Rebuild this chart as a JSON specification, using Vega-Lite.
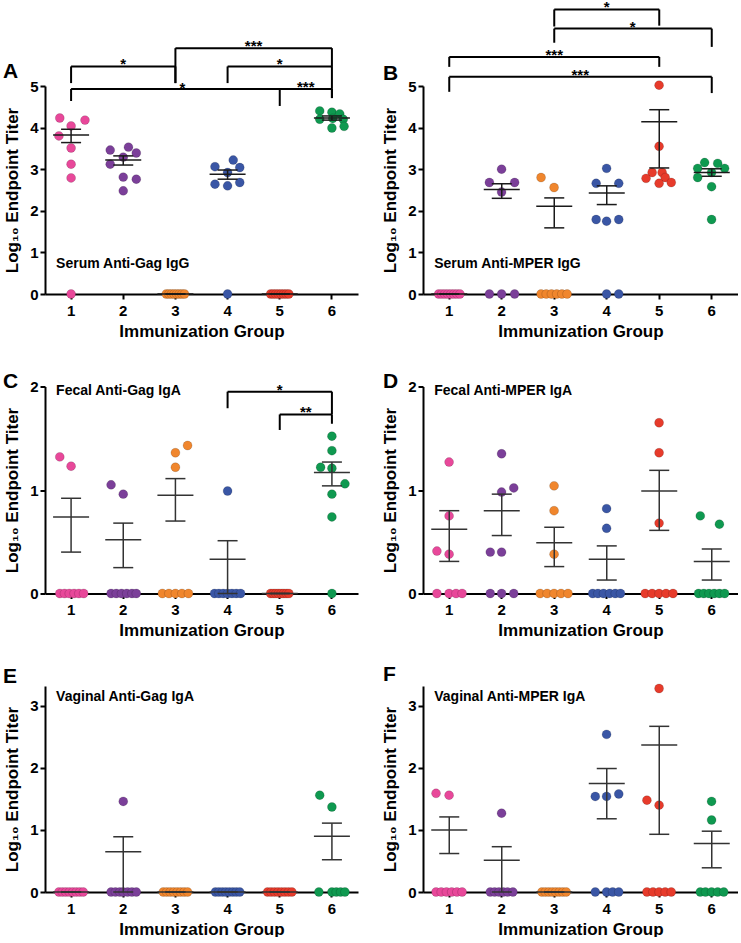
{
"$schema": "https://vega.github.io/schema/vega-lite/v6.json",
"padding": {"left": 3, "top": 0, "right": 0, "bottom": 0},
"config": {
 "font": "Liberation Sans",
 "view": {"stroke": null},
 "axis": {"domainColor": "#000", "domainWidth": 2, "tickColor": "#000", "tickWidth": 2, "tickSize": 5, "labelFontSize": 15, "labelFontWeight": "bold", "labelColor": "#000", "titleFontSize": 17, "titleFontWeight": "bold", "titleColor": "#000", "grid": false},
 "axisX": {"labelAngle": 0, "labelPadding": 4, "titlePadding": 5},
 "axisY": {"labelPadding": 2, "titlePadding": 8, "format": "d"},
 "title": {"fontSize": 21, "fontWeight": "bold", "color": "#000", "anchor": "start", "frame": "group"}
},
"datasets": {
 "points": [
  {"panel":"A","group":1,"titer":4.23,"slot":-1.3},{"panel":"A","group":1,"titer":4.04,"slot":0},{"panel":"A","group":1,"titer":4.18,"slot":1.6},{"panel":"A","group":1,"titer":3.8,"slot":-1.4},{"panel":"A","group":1,"titer":3.51,"slot":0},{"panel":"A","group":1,"titer":3.12,"slot":0},{"panel":"A","group":1,"titer":2.79,"slot":0},{"panel":"A","group":1,"titer":0,"slot":0},
  {"panel":"A","group":2,"titer":3.46,"slot":-1.5},{"panel":"A","group":2,"titer":3.53,"slot":0.6},{"panel":"A","group":2,"titer":3.39,"slot":1.5},{"panel":"A","group":2,"titer":3.12,"slot":-1.5},{"panel":"A","group":2,"titer":3.29,"slot":0},{"panel":"A","group":2,"titer":2.81,"slot":0},{"panel":"A","group":2,"titer":2.76,"slot":1.5},{"panel":"A","group":2,"titer":2.48,"slot":0},
  {"panel":"A","group":3,"titer":0,"slot":-1.05},{"panel":"A","group":3,"titer":0,"slot":-0.75},{"panel":"A","group":3,"titer":0,"slot":-0.45},{"panel":"A","group":3,"titer":0,"slot":-0.15},{"panel":"A","group":3,"titer":0,"slot":0.15},{"panel":"A","group":3,"titer":0,"slot":0.45},{"panel":"A","group":3,"titer":0,"slot":0.75},{"panel":"A","group":3,"titer":0,"slot":1.05},
  {"panel":"A","group":4,"titer":3.06,"slot":-1.45},{"panel":"A","group":4,"titer":3.22,"slot":0.65},{"panel":"A","group":4,"titer":3.04,"slot":1.4},{"panel":"A","group":4,"titer":2.92,"slot":0},{"panel":"A","group":4,"titer":2.64,"slot":-1.45},{"panel":"A","group":4,"titer":2.6,"slot":0},{"panel":"A","group":4,"titer":2.68,"slot":1.4},{"panel":"A","group":4,"titer":0,"slot":0},
  {"panel":"A","group":5,"titer":0,"slot":-1.05},{"panel":"A","group":5,"titer":0,"slot":-0.75},{"panel":"A","group":5,"titer":0,"slot":-0.45},{"panel":"A","group":5,"titer":0,"slot":-0.15},{"panel":"A","group":5,"titer":0,"slot":0.15},{"panel":"A","group":5,"titer":0,"slot":0.45},{"panel":"A","group":5,"titer":0,"slot":0.75},{"panel":"A","group":5,"titer":0,"slot":1.05},
  {"panel":"A","group":6,"titer":4.4,"slot":-1.4},{"panel":"A","group":6,"titer":4.37,"slot":0},{"panel":"A","group":6,"titer":4.33,"slot":0.9},{"panel":"A","group":6,"titer":4.2,"slot":-1.4},{"panel":"A","group":6,"titer":4.22,"slot":0.1},{"panel":"A","group":6,"titer":4.2,"slot":1.3},{"panel":"A","group":6,"titer":3.99,"slot":0},{"panel":"A","group":6,"titer":4.03,"slot":1.4},

  {"panel":"B","group":1,"titer":0,"slot":-1.2},{"panel":"B","group":1,"titer":0,"slot":-0.85},{"panel":"B","group":1,"titer":0,"slot":-0.5},{"panel":"B","group":1,"titer":0,"slot":-0.15},{"panel":"B","group":1,"titer":0,"slot":0.2},{"panel":"B","group":1,"titer":0,"slot":0.55},{"panel":"B","group":1,"titer":0,"slot":0.9},{"panel":"B","group":1,"titer":0,"slot":1.25},
  {"panel":"B","group":2,"titer":3.0,"slot":0},{"panel":"B","group":2,"titer":2.68,"slot":-1.4},{"panel":"B","group":2,"titer":2.68,"slot":1.5},{"panel":"B","group":2,"titer":2.45,"slot":0},{"panel":"B","group":2,"titer":0,"slot":-1.4},{"panel":"B","group":2,"titer":0,"slot":0},{"panel":"B","group":2,"titer":0,"slot":1.5},
  {"panel":"B","group":3,"titer":2.8,"slot":-1.5},{"panel":"B","group":3,"titer":2.56,"slot":0},{"panel":"B","group":3,"titer":0,"slot":-1.5},{"panel":"B","group":3,"titer":0,"slot":-0.9},{"panel":"B","group":3,"titer":0,"slot":-0.3},{"panel":"B","group":3,"titer":0,"slot":0.3},{"panel":"B","group":3,"titer":0,"slot":0.9},{"panel":"B","group":3,"titer":0,"slot":1.5},
  {"panel":"B","group":4,"titer":3.02,"slot":0},{"panel":"B","group":4,"titer":2.66,"slot":-1.2},{"panel":"B","group":4,"titer":2.66,"slot":1.4},{"panel":"B","group":4,"titer":1.79,"slot":-1.2},{"panel":"B","group":4,"titer":1.75,"slot":0},{"panel":"B","group":4,"titer":1.79,"slot":1.4},{"panel":"B","group":4,"titer":0,"slot":0},{"panel":"B","group":4,"titer":0,"slot":1.4},
  {"panel":"B","group":5,"titer":5.02,"slot":0},{"panel":"B","group":5,"titer":3.55,"slot":0},{"panel":"B","group":5,"titer":2.92,"slot":-0.8},{"panel":"B","group":5,"titer":2.92,"slot":0.35},{"panel":"B","group":5,"titer":2.8,"slot":0.7},{"panel":"B","group":5,"titer":2.78,"slot":-1.5},{"panel":"B","group":5,"titer":2.66,"slot":0},{"panel":"B","group":5,"titer":2.68,"slot":1.4},
  {"panel":"B","group":6,"titer":3.16,"slot":-0.8},{"panel":"B","group":6,"titer":3.14,"slot":0.7},{"panel":"B","group":6,"titer":3.02,"slot":-1.6},{"panel":"B","group":6,"titer":3.02,"slot":1.5},{"panel":"B","group":6,"titer":2.8,"slot":-1.6},{"panel":"B","group":6,"titer":2.92,"slot":0},{"panel":"B","group":6,"titer":2.58,"slot":0},{"panel":"B","group":6,"titer":1.79,"slot":0},

  {"panel":"C","group":1,"titer":1.32,"slot":-1.3},{"panel":"C","group":1,"titer":1.23,"slot":0},{"panel":"C","group":1,"titer":0,"slot":-1.3},{"panel":"C","group":1,"titer":0,"slot":-0.75},{"panel":"C","group":1,"titer":0,"slot":-0.2},{"panel":"C","group":1,"titer":0,"slot":0.35},{"panel":"C","group":1,"titer":0,"slot":0.9},{"panel":"C","group":1,"titer":0,"slot":1.45},
  {"panel":"C","group":2,"titer":1.05,"slot":-1.4},{"panel":"C","group":2,"titer":0.96,"slot":0},{"panel":"C","group":2,"titer":0,"slot":-1.4},{"panel":"C","group":2,"titer":0,"slot":-0.8},{"panel":"C","group":2,"titer":0,"slot":-0.2},{"panel":"C","group":2,"titer":0,"slot":0.4},{"panel":"C","group":2,"titer":0,"slot":1.0},{"panel":"C","group":2,"titer":0,"slot":1.5},
  {"panel":"C","group":3,"titer":1.36,"slot":0},{"panel":"C","group":3,"titer":1.43,"slot":1.4},{"panel":"C","group":3,"titer":1.22,"slot":0},{"panel":"C","group":3,"titer":0,"slot":-1.5},{"panel":"C","group":3,"titer":0,"slot":-0.75},{"panel":"C","group":3,"titer":0,"slot":0},{"panel":"C","group":3,"titer":0,"slot":0.75},{"panel":"C","group":3,"titer":0,"slot":1.5},
  {"panel":"C","group":4,"titer":0.99,"slot":0},{"panel":"C","group":4,"titer":0,"slot":-1.5},{"panel":"C","group":4,"titer":0,"slot":-1.0},{"panel":"C","group":4,"titer":0,"slot":-0.5},{"panel":"C","group":4,"titer":0,"slot":0},{"panel":"C","group":4,"titer":0,"slot":0.5},{"panel":"C","group":4,"titer":0,"slot":1.0},{"panel":"C","group":4,"titer":0,"slot":1.5},
  {"panel":"C","group":5,"titer":0,"slot":-1.05},{"panel":"C","group":5,"titer":0,"slot":-0.75},{"panel":"C","group":5,"titer":0,"slot":-0.45},{"panel":"C","group":5,"titer":0,"slot":-0.15},{"panel":"C","group":5,"titer":0,"slot":0.15},{"panel":"C","group":5,"titer":0,"slot":0.45},{"panel":"C","group":5,"titer":0,"slot":0.75},{"panel":"C","group":5,"titer":0,"slot":1.05},
  {"panel":"C","group":6,"titer":1.52,"slot":0},{"panel":"C","group":6,"titer":1.38,"slot":0},{"panel":"C","group":6,"titer":1.22,"slot":-1.3},{"panel":"C","group":6,"titer":1.21,"slot":0},{"panel":"C","group":6,"titer":1.06,"slot":1.5},{"panel":"C","group":6,"titer":0.96,"slot":0},{"panel":"C","group":6,"titer":0.74,"slot":0},{"panel":"C","group":6,"titer":0,"slot":0},

  {"panel":"D","group":1,"titer":1.27,"slot":0},{"panel":"D","group":1,"titer":0.75,"slot":0},{"panel":"D","group":1,"titer":0.41,"slot":-1.4},{"panel":"D","group":1,"titer":0.38,"slot":0},{"panel":"D","group":1,"titer":0,"slot":-1.4},{"panel":"D","group":1,"titer":0,"slot":0},{"panel":"D","group":1,"titer":0,"slot":0.8},{"panel":"D","group":1,"titer":0,"slot":1.5},
  {"panel":"D","group":2,"titer":1.35,"slot":0},{"panel":"D","group":2,"titer":0.98,"slot":0},{"panel":"D","group":2,"titer":1.02,"slot":1.4},{"panel":"D","group":2,"titer":0.4,"slot":-1.3},{"panel":"D","group":2,"titer":0.4,"slot":0},{"panel":"D","group":2,"titer":0,"slot":-1.3},{"panel":"D","group":2,"titer":0,"slot":0},{"panel":"D","group":2,"titer":0,"slot":1.4},
  {"panel":"D","group":3,"titer":1.04,"slot":0},{"panel":"D","group":3,"titer":0.8,"slot":0},{"panel":"D","group":3,"titer":0.38,"slot":0},{"panel":"D","group":3,"titer":0,"slot":-1.6},{"panel":"D","group":3,"titer":0,"slot":-0.8},{"panel":"D","group":3,"titer":0,"slot":0},{"panel":"D","group":3,"titer":0,"slot":0.8},{"panel":"D","group":3,"titer":0,"slot":1.6},
  {"panel":"D","group":4,"titer":0.82,"slot":0},{"panel":"D","group":4,"titer":0.63,"slot":0},{"panel":"D","group":4,"titer":0,"slot":-1.6},{"panel":"D","group":4,"titer":0,"slot":-1.0},{"panel":"D","group":4,"titer":0,"slot":-0.35},{"panel":"D","group":4,"titer":0,"slot":0.35},{"panel":"D","group":4,"titer":0,"slot":1.0},{"panel":"D","group":4,"titer":0,"slot":1.6},
  {"panel":"D","group":5,"titer":1.65,"slot":0},{"panel":"D","group":5,"titer":1.36,"slot":0},{"panel":"D","group":5,"titer":0.68,"slot":0},{"panel":"D","group":5,"titer":0,"slot":-1.6},{"panel":"D","group":5,"titer":0,"slot":-0.8},{"panel":"D","group":5,"titer":0,"slot":0},{"panel":"D","group":5,"titer":0,"slot":0.8},{"panel":"D","group":5,"titer":0,"slot":1.6},
  {"panel":"D","group":6,"titer":0.75,"slot":-1.3},{"panel":"D","group":6,"titer":0.67,"slot":0.9},{"panel":"D","group":6,"titer":0,"slot":-1.5},{"panel":"D","group":6,"titer":0,"slot":-0.9},{"panel":"D","group":6,"titer":0,"slot":-0.3},{"panel":"D","group":6,"titer":0,"slot":0.3},{"panel":"D","group":6,"titer":0,"slot":0.9},{"panel":"D","group":6,"titer":0,"slot":1.5},

  {"panel":"E","group":1,"titer":0,"slot":-1.4},{"panel":"E","group":1,"titer":0,"slot":-1.0},{"panel":"E","group":1,"titer":0,"slot":-0.6},{"panel":"E","group":1,"titer":0,"slot":-0.2},{"panel":"E","group":1,"titer":0,"slot":0.2},{"panel":"E","group":1,"titer":0,"slot":0.6},{"panel":"E","group":1,"titer":0,"slot":1.0},{"panel":"E","group":1,"titer":0,"slot":1.4},
  {"panel":"E","group":2,"titer":1.46,"slot":0},{"panel":"E","group":2,"titer":0,"slot":-1.4},{"panel":"E","group":2,"titer":0,"slot":-0.9},{"panel":"E","group":2,"titer":0,"slot":-0.4},{"panel":"E","group":2,"titer":0,"slot":0},{"panel":"E","group":2,"titer":0,"slot":0.5},{"panel":"E","group":2,"titer":0,"slot":1.0},{"panel":"E","group":2,"titer":0,"slot":1.5},
  {"panel":"E","group":3,"titer":0,"slot":-1.4},{"panel":"E","group":3,"titer":0,"slot":-1.0},{"panel":"E","group":3,"titer":0,"slot":-0.6},{"panel":"E","group":3,"titer":0,"slot":-0.2},{"panel":"E","group":3,"titer":0,"slot":0.2},{"panel":"E","group":3,"titer":0,"slot":0.6},{"panel":"E","group":3,"titer":0,"slot":1.0},{"panel":"E","group":3,"titer":0,"slot":1.4},
  {"panel":"E","group":4,"titer":0,"slot":-1.4},{"panel":"E","group":4,"titer":0,"slot":-1.0},{"panel":"E","group":4,"titer":0,"slot":-0.6},{"panel":"E","group":4,"titer":0,"slot":-0.2},{"panel":"E","group":4,"titer":0,"slot":0.2},{"panel":"E","group":4,"titer":0,"slot":0.6},{"panel":"E","group":4,"titer":0,"slot":1.0},{"panel":"E","group":4,"titer":0,"slot":1.4},
  {"panel":"E","group":5,"titer":0,"slot":-1.4},{"panel":"E","group":5,"titer":0,"slot":-1.0},{"panel":"E","group":5,"titer":0,"slot":-0.6},{"panel":"E","group":5,"titer":0,"slot":-0.2},{"panel":"E","group":5,"titer":0,"slot":0.2},{"panel":"E","group":5,"titer":0,"slot":0.6},{"panel":"E","group":5,"titer":0,"slot":1.0},{"panel":"E","group":5,"titer":0,"slot":1.4},
  {"panel":"E","group":6,"titer":1.56,"slot":-1.4},{"panel":"E","group":6,"titer":1.37,"slot":0},{"panel":"E","group":6,"titer":0,"slot":-1.5},{"panel":"E","group":6,"titer":0,"slot":0},{"panel":"E","group":6,"titer":0,"slot":0.5},{"panel":"E","group":6,"titer":0,"slot":1.0},{"panel":"E","group":6,"titer":0,"slot":1.5},

  {"panel":"F","group":1,"titer":1.59,"slot":-1.5},{"panel":"F","group":1,"titer":1.56,"slot":0},{"panel":"F","group":1,"titer":0,"slot":-1.5},{"panel":"F","group":1,"titer":0,"slot":-0.9},{"panel":"F","group":1,"titer":0,"slot":-0.3},{"panel":"F","group":1,"titer":0,"slot":0.3},{"panel":"F","group":1,"titer":0,"slot":0.9},{"panel":"F","group":1,"titer":0,"slot":1.5},
  {"panel":"F","group":2,"titer":1.27,"slot":0},{"panel":"F","group":2,"titer":0,"slot":-1.3},{"panel":"F","group":2,"titer":0,"slot":-0.8},{"panel":"F","group":2,"titer":0,"slot":-0.3},{"panel":"F","group":2,"titer":0,"slot":0.2},{"panel":"F","group":2,"titer":0,"slot":0.7},{"panel":"F","group":2,"titer":0,"slot":1.3},
  {"panel":"F","group":3,"titer":0,"slot":-1.4},{"panel":"F","group":3,"titer":0,"slot":-1.0},{"panel":"F","group":3,"titer":0,"slot":-0.6},{"panel":"F","group":3,"titer":0,"slot":-0.2},{"panel":"F","group":3,"titer":0,"slot":0.2},{"panel":"F","group":3,"titer":0,"slot":0.6},{"panel":"F","group":3,"titer":0,"slot":1.0},{"panel":"F","group":3,"titer":0,"slot":1.4},
  {"panel":"F","group":4,"titer":2.54,"slot":0},{"panel":"F","group":4,"titer":1.54,"slot":-1.3},{"panel":"F","group":4,"titer":1.54,"slot":0},{"panel":"F","group":4,"titer":1.58,"slot":1.4},{"panel":"F","group":4,"titer":0,"slot":-1.3},{"panel":"F","group":4,"titer":0,"slot":0},{"panel":"F","group":4,"titer":0,"slot":0.7},{"panel":"F","group":4,"titer":0,"slot":1.4},
  {"panel":"F","group":5,"titer":3.28,"slot":0},{"panel":"F","group":5,"titer":1.48,"slot":-1.4},{"panel":"F","group":5,"titer":1.4,"slot":0},{"panel":"F","group":5,"titer":0,"slot":-1.4},{"panel":"F","group":5,"titer":0,"slot":-0.7},{"panel":"F","group":5,"titer":0,"slot":0},{"panel":"F","group":5,"titer":0,"slot":0.7},{"panel":"F","group":5,"titer":0,"slot":1.4},
  {"panel":"F","group":6,"titer":1.46,"slot":0},{"panel":"F","group":6,"titer":1.16,"slot":0},{"panel":"F","group":6,"titer":0,"slot":-1.3},{"panel":"F","group":6,"titer":0,"slot":-0.7},{"panel":"F","group":6,"titer":0,"slot":0},{"panel":"F","group":6,"titer":0,"slot":0.7},{"panel":"F","group":6,"titer":0,"slot":1.4}
 ],
 "stats": [
  {"panel":"A","group":1,"mean":3.82,"lo":3.64,"hi":3.96},{"panel":"A","group":2,"mean":3.22,"lo":3.1,"hi":3.32},{"panel":"A","group":3,"mean":0,"lo":0,"hi":0},{"panel":"A","group":4,"mean":2.88,"lo":2.76,"hi":2.98},{"panel":"A","group":5,"mean":0,"lo":0,"hi":0},{"panel":"A","group":6,"mean":4.23,"lo":4.18,"hi":4.28},
  {"panel":"B","group":1,"mean":0,"lo":0,"hi":0},{"panel":"B","group":2,"mean":2.51,"lo":2.3,"hi":2.65},{"panel":"B","group":3,"mean":2.11,"lo":1.59,"hi":2.31},{"panel":"B","group":4,"mean":2.43,"lo":2.15,"hi":2.6},{"panel":"B","group":5,"mean":4.14,"lo":3.03,"hi":4.43},{"panel":"B","group":6,"mean":2.92,"lo":2.83,"hi":3.01},
  {"panel":"C","group":1,"mean":0.74,"lo":0.4,"hi":0.92},{"panel":"C","group":2,"mean":0.52,"lo":0.25,"hi":0.68},{"panel":"C","group":3,"mean":0.95,"lo":0.7,"hi":1.11},{"panel":"C","group":4,"mean":0.33,"lo":0,"hi":0.51},{"panel":"C","group":5,"mean":0,"lo":0,"hi":0},{"panel":"C","group":6,"mean":1.17,"lo":1.04,"hi":1.27},
  {"panel":"D","group":1,"mean":0.62,"lo":0.31,"hi":0.8},{"panel":"D","group":2,"mean":0.8,"lo":0.56,"hi":0.96},{"panel":"D","group":3,"mean":0.49,"lo":0.26,"hi":0.64},{"panel":"D","group":4,"mean":0.33,"lo":0.13,"hi":0.46},{"panel":"D","group":5,"mean":0.99,"lo":0.61,"hi":1.19},{"panel":"D","group":6,"mean":0.31,"lo":0.13,"hi":0.43},
  {"panel":"E","group":1,"mean":0,"lo":0,"hi":0},{"panel":"E","group":2,"mean":0.65,"lo":0,"hi":0.89},{"panel":"E","group":3,"mean":0,"lo":0,"hi":0},{"panel":"E","group":4,"mean":0,"lo":0,"hi":0},{"panel":"E","group":5,"mean":0,"lo":0,"hi":0},{"panel":"E","group":6,"mean":0.9,"lo":0.52,"hi":1.11},
  {"panel":"F","group":1,"mean":1.0,"lo":0.62,"hi":1.21},{"panel":"F","group":2,"mean":0.51,"lo":0,"hi":0.73},{"panel":"F","group":3,"mean":0,"lo":0,"hi":0},{"panel":"F","group":4,"mean":1.75,"lo":1.18,"hi":1.99},{"panel":"F","group":5,"mean":2.37,"lo":0.93,"hi":2.67},{"panel":"F","group":6,"mean":0.78,"lo":0.39,"hi":0.98}
 ],
 "brackets": [
  {"panel":"A","from":3,"to":6,"level":5.91,"endL":5.07,"endR":5.46,"stars":"***","place":"half","at":4},
  {"panel":"A","from":1,"to":3,"level":5.47,"endL":5.07,"endR":5.07,"stars":"*","place":"mid","at":2},
  {"panel":"A","from":4,"to":6,"level":5.47,"endL":5.07,"endR":4.93,"stars":"*","place":"mid","at":5},
  {"panel":"A","from":1,"to":6,"level":4.93,"endL":4.64,"endR":4.71,"stars":"*","place":"side","at":3},
  {"panel":"A","from":5,"to":6,"level":4.93,"endL":4.52,"endR":4.71,"stars":"***","place":"half","at":5},
  {"panel":"B","from":3,"to":5,"level":6.84,"endL":6.43,"endR":6.45,"stars":"*","place":"mid","at":4},
  {"panel":"B","from":3,"to":6,"level":6.38,"endL":6.04,"endR":5.94,"stars":"*","place":"half","at":4},
  {"panel":"B","from":1,"to":5,"level":5.7,"endL":5.46,"endR":5.46,"stars":"***","place":"mid","at":3},
  {"panel":"B","from":1,"to":6,"level":5.22,"endL":4.86,"endR":4.83,"stars":"***","place":"half","at":3},
  {"panel":"C","from":4,"to":6,"level":1.95,"endL":1.79,"endR":1.73,"stars":"*","place":"mid","at":5},
  {"panel":"C","from":5,"to":6,"level":1.73,"endL":1.58,"endR":1.64,"stars":"**","place":"half","at":5}
 ],
 "notes": [
  {"panel":"A","label":"Serum Anti-Gag IgG","at":1,"level":0.72},
  {"panel":"B","label":"Serum Anti-MPER IgG","at":1,"level":0.72},
  {"panel":"C","label":"Fecal Anti-Gag IgA","at":1,"level":1.96},
  {"panel":"D","label":"Fecal Anti-MPER IgA","at":1,"level":1.96},
  {"panel":"E","label":"Vaginal Anti-Gag IgA","at":1,"level":3.15},
  {"panel":"F","label":"Vaginal Anti-MPER IgA","at":1,"level":3.15}
 ]
},
"columns": 2,
"bounds": "flush",
"spacing": {"row": 92.5, "column": 65},
"concat": [
 {"width": 313, "height": 208,
  "title": {"text": "A", "dx": -42, "offset": -63.5, "baseline": "bottom"},
  "layer": [
   {"data": {"name": "points"}, "transform": [{"filter": {"field": "panel", "equal": "A"}}],
    "mark": {"type": "circle", "size": 80, "opacity": 1, "stroke": "#000", "strokeOpacity": 0.25, "strokeWidth": 0.6},
    "encoding": {
     "x": {"field": "group", "type": "ordinal", "scale": {"domain": [1,2,3,4,5,6], "paddingInner": 0, "paddingOuter": 0}, "axis": {"title": "Immunization Group"}},
     "xOffset": {"field": "slot", "type": "quantitative", "scale": {"domain": [-3, 3]}},
     "y": {"field": "titer", "type": "quantitative", "scale": {"domain": [0, 5], "nice": false}, "axis": {"title": "Log₁₀ Endpoint Titer", "values": [0,1,2,3,4,5]}},
     "color": {"field": "group", "type": "nominal", "scale": {"domain": [1,2,3,4,5,6], "range": ["#E8489A","#7B3F99","#F0862D","#3A56A5","#E73B2B","#0F9950"]}, "legend": null}}},
   {"data": {"name": "stats"}, "transform": [{"filter": {"field": "panel", "equal": "A"}}],
    "mark": {"type": "rule", "color": "#1a1a1a", "strokeWidth": 1.5},
    "encoding": {"x": {"field": "group", "type": "ordinal", "bandPosition": 0.5}, "y": {"field": "lo", "type": "quantitative"}, "y2": {"field": "hi"}}},
   {"data": {"name": "stats"}, "transform": [{"filter": {"field": "panel", "equal": "A"}}],
    "mark": {"type": "tick", "orient": "horizontal", "size": 36, "thickness": 1.5, "color": "#1a1a1a", "opacity": 1},
    "encoding": {"x": {"field": "group", "type": "ordinal"}, "y": {"field": "mean", "type": "quantitative"}}},
   {"data": {"name": "stats"}, "transform": [{"filter": {"field": "panel", "equal": "A"}}],
    "mark": {"type": "tick", "orient": "horizontal", "size": 20, "thickness": 1.5, "color": "#1a1a1a", "opacity": 1},
    "encoding": {"x": {"field": "group", "type": "ordinal"}, "y": {"field": "lo", "type": "quantitative"}}},
   {"data": {"name": "stats"}, "transform": [{"filter": {"field": "panel", "equal": "A"}}],
    "mark": {"type": "tick", "orient": "horizontal", "size": 20, "thickness": 1.5, "color": "#1a1a1a", "opacity": 1},
    "encoding": {"x": {"field": "group", "type": "ordinal"}, "y": {"field": "hi", "type": "quantitative"}}},
   {"data": {"name": "brackets"}, "transform": [{"filter": {"field": "panel", "equal": "A"}}],
    "mark": {"type": "rule", "color": "#000", "strokeWidth": 2},
    "encoding": {"x": {"field": "from", "type": "ordinal", "bandPosition": 0.5}, "x2": {"field": "to", "bandPosition": 0.5}, "y": {"field": "level", "type": "quantitative"}}},
   {"data": {"name": "brackets"}, "transform": [{"filter": {"field": "panel", "equal": "A"}}],
    "mark": {"type": "rule", "color": "#000", "strokeWidth": 2},
    "encoding": {"x": {"field": "from", "type": "ordinal", "bandPosition": 0.5}, "y": {"field": "level", "type": "quantitative"}, "y2": {"field": "endL"}}},
   {"data": {"name": "brackets"}, "transform": [{"filter": {"field": "panel", "equal": "A"}}],
    "mark": {"type": "rule", "color": "#000", "strokeWidth": 2},
    "encoding": {"x": {"field": "to", "type": "ordinal", "bandPosition": 0.5}, "y": {"field": "level", "type": "quantitative"}, "y2": {"field": "endR"}}},
   {"data": {"name": "brackets"}, "transform": [{"filter": {"field": "panel", "equal": "A"}}, {"filter": {"field": "place", "equal": "mid"}}],
    "mark": {"type": "text", "fontSize": 15, "fontWeight": "bold", "baseline": "alphabetic", "dy": 3, "color": "#000"},
    "encoding": {"x": {"field": "at", "type": "ordinal", "bandPosition": 0.5}, "y": {"field": "level", "type": "quantitative"}, "text": {"field": "stars"}}},
   {"data": {"name": "brackets"}, "transform": [{"filter": {"field": "panel", "equal": "A"}}, {"filter": {"field": "place", "equal": "half"}}],
    "mark": {"type": "text", "fontSize": 15, "fontWeight": "bold", "baseline": "alphabetic", "dy": 3, "dx": 26, "color": "#000"},
    "encoding": {"x": {"field": "at", "type": "ordinal", "bandPosition": 0.5}, "y": {"field": "level", "type": "quantitative"}, "text": {"field": "stars"}}},
   {"data": {"name": "brackets"}, "transform": [{"filter": {"field": "panel", "equal": "A"}}, {"filter": {"field": "place", "equal": "side"}}],
    "mark": {"type": "text", "fontSize": 15, "fontWeight": "bold", "baseline": "alphabetic", "dy": 4, "dx": 4, "align": "left", "color": "#000"},
    "encoding": {"x": {"field": "at", "type": "ordinal", "bandPosition": 0.5}, "y": {"field": "level", "type": "quantitative"}, "text": {"field": "stars"}}},
   {"data": {"name": "notes"}, "transform": [{"filter": {"field": "panel", "equal": "A"}}],
    "mark": {"type": "text", "fontSize": 14, "fontWeight": "bold", "align": "left", "baseline": "middle", "dx": -15, "color": "#000"},
    "encoding": {"x": {"field": "at", "type": "ordinal", "bandPosition": 0.5}, "y": {"field": "level", "type": "quantitative"}, "text": {"field": "label"}}}
  ]},
 {"width": 315, "height": 208,
  "title": {"text": "B", "dx": -40, "offset": -104.5, "baseline": "bottom"},
  "layer": [
   {"data": {"name": "points"}, "transform": [{"filter": {"field": "panel", "equal": "B"}}],
    "mark": {"type": "circle", "size": 80, "opacity": 1, "stroke": "#000", "strokeOpacity": 0.25, "strokeWidth": 0.6},
    "encoding": {
     "x": {"field": "group", "type": "ordinal", "scale": {"domain": [1,2,3,4,5,6], "paddingInner": 0, "paddingOuter": 0}, "axis": {"title": "Immunization Group"}},
     "xOffset": {"field": "slot", "type": "quantitative", "scale": {"domain": [-3, 3]}},
     "y": {"field": "titer", "type": "quantitative", "scale": {"domain": [0, 5], "nice": false}, "axis": {"title": "Log₁₀ Endpoint Titer", "values": [0,1,2,3,4,5]}},
     "color": {"field": "group", "type": "nominal", "scale": {"domain": [1,2,3,4,5,6], "range": ["#E8489A","#7B3F99","#F0862D","#3A56A5","#E73B2B","#0F9950"]}, "legend": null}}},
   {"data": {"name": "stats"}, "transform": [{"filter": {"field": "panel", "equal": "B"}}],
    "mark": {"type": "rule", "color": "#1a1a1a", "strokeWidth": 1.5},
    "encoding": {"x": {"field": "group", "type": "ordinal", "bandPosition": 0.5}, "y": {"field": "lo", "type": "quantitative"}, "y2": {"field": "hi"}}},
   {"data": {"name": "stats"}, "transform": [{"filter": {"field": "panel", "equal": "B"}}],
    "mark": {"type": "tick", "orient": "horizontal", "size": 36, "thickness": 1.5, "color": "#1a1a1a", "opacity": 1},
    "encoding": {"x": {"field": "group", "type": "ordinal"}, "y": {"field": "mean", "type": "quantitative"}}},
   {"data": {"name": "stats"}, "transform": [{"filter": {"field": "panel", "equal": "B"}}],
    "mark": {"type": "tick", "orient": "horizontal", "size": 20, "thickness": 1.5, "color": "#1a1a1a", "opacity": 1},
    "encoding": {"x": {"field": "group", "type": "ordinal"}, "y": {"field": "lo", "type": "quantitative"}}},
   {"data": {"name": "stats"}, "transform": [{"filter": {"field": "panel", "equal": "B"}}],
    "mark": {"type": "tick", "orient": "horizontal", "size": 20, "thickness": 1.5, "color": "#1a1a1a", "opacity": 1},
    "encoding": {"x": {"field": "group", "type": "ordinal"}, "y": {"field": "hi", "type": "quantitative"}}},
   {"data": {"name": "brackets"}, "transform": [{"filter": {"field": "panel", "equal": "B"}}],
    "mark": {"type": "rule", "color": "#000", "strokeWidth": 2},
    "encoding": {"x": {"field": "from", "type": "ordinal", "bandPosition": 0.5}, "x2": {"field": "to", "bandPosition": 0.5}, "y": {"field": "level", "type": "quantitative"}}},
   {"data": {"name": "brackets"}, "transform": [{"filter": {"field": "panel", "equal": "B"}}],
    "mark": {"type": "rule", "color": "#000", "strokeWidth": 2},
    "encoding": {"x": {"field": "from", "type": "ordinal", "bandPosition": 0.5}, "y": {"field": "level", "type": "quantitative"}, "y2": {"field": "endL"}}},
   {"data": {"name": "brackets"}, "transform": [{"filter": {"field": "panel", "equal": "B"}}],
    "mark": {"type": "rule", "color": "#000", "strokeWidth": 2},
    "encoding": {"x": {"field": "to", "type": "ordinal", "bandPosition": 0.5}, "y": {"field": "level", "type": "quantitative"}, "y2": {"field": "endR"}}},
   {"data": {"name": "brackets"}, "transform": [{"filter": {"field": "panel", "equal": "B"}}, {"filter": {"field": "place", "equal": "mid"}}],
    "mark": {"type": "text", "fontSize": 15, "fontWeight": "bold", "baseline": "alphabetic", "dy": 3, "color": "#000"},
    "encoding": {"x": {"field": "at", "type": "ordinal", "bandPosition": 0.5}, "y": {"field": "level", "type": "quantitative"}, "text": {"field": "stars"}}},
   {"data": {"name": "brackets"}, "transform": [{"filter": {"field": "panel", "equal": "B"}}, {"filter": {"field": "place", "equal": "half"}}],
    "mark": {"type": "text", "fontSize": 15, "fontWeight": "bold", "baseline": "alphabetic", "dy": 3, "dx": 26, "color": "#000"},
    "encoding": {"x": {"field": "at", "type": "ordinal", "bandPosition": 0.5}, "y": {"field": "level", "type": "quantitative"}, "text": {"field": "stars"}}},
   {"data": {"name": "notes"}, "transform": [{"filter": {"field": "panel", "equal": "B"}}],
    "mark": {"type": "text", "fontSize": 14, "fontWeight": "bold", "align": "left", "baseline": "middle", "dx": -15, "color": "#000"},
    "encoding": {"x": {"field": "at", "type": "ordinal", "bandPosition": 0.5}, "y": {"field": "level", "type": "quantitative"}, "text": {"field": "label"}}}
  ]},
 {"width": 313, "height": 207,
  "title": {"text": "C", "dx": -42, "offset": -33.5, "baseline": "bottom"},
  "layer": [
   {"data": {"name": "points"}, "transform": [{"filter": {"field": "panel", "equal": "C"}}],
    "mark": {"type": "circle", "size": 80, "opacity": 1, "stroke": "#000", "strokeOpacity": 0.25, "strokeWidth": 0.6},
    "encoding": {
     "x": {"field": "group", "type": "ordinal", "scale": {"domain": [1,2,3,4,5,6], "paddingInner": 0, "paddingOuter": 0}, "axis": {"title": "Immunization Group"}},
     "xOffset": {"field": "slot", "type": "quantitative", "scale": {"domain": [-3, 3]}},
     "y": {"field": "titer", "type": "quantitative", "scale": {"domain": [0, 2], "nice": false}, "axis": {"title": "Log₁₀ Endpoint Titer", "values": [0,1,2]}},
     "color": {"field": "group", "type": "nominal", "scale": {"domain": [1,2,3,4,5,6], "range": ["#E8489A","#7B3F99","#F0862D","#3A56A5","#E73B2B","#0F9950"]}, "legend": null}}},
   {"data": {"name": "stats"}, "transform": [{"filter": {"field": "panel", "equal": "C"}}],
    "mark": {"type": "rule", "color": "#333", "strokeWidth": 1.5},
    "encoding": {"x": {"field": "group", "type": "ordinal", "bandPosition": 0.5}, "y": {"field": "lo", "type": "quantitative"}, "y2": {"field": "hi"}}},
   {"data": {"name": "stats"}, "transform": [{"filter": {"field": "panel", "equal": "C"}}],
    "mark": {"type": "tick", "orient": "horizontal", "size": 36, "thickness": 1.5, "color": "#333", "opacity": 1},
    "encoding": {"x": {"field": "group", "type": "ordinal"}, "y": {"field": "mean", "type": "quantitative"}}},
   {"data": {"name": "stats"}, "transform": [{"filter": {"field": "panel", "equal": "C"}}],
    "mark": {"type": "tick", "orient": "horizontal", "size": 20, "thickness": 1.5, "color": "#333", "opacity": 1},
    "encoding": {"x": {"field": "group", "type": "ordinal"}, "y": {"field": "lo", "type": "quantitative"}}},
   {"data": {"name": "stats"}, "transform": [{"filter": {"field": "panel", "equal": "C"}}],
    "mark": {"type": "tick", "orient": "horizontal", "size": 20, "thickness": 1.5, "color": "#333", "opacity": 1},
    "encoding": {"x": {"field": "group", "type": "ordinal"}, "y": {"field": "hi", "type": "quantitative"}}},
   {"data": {"name": "brackets"}, "transform": [{"filter": {"field": "panel", "equal": "C"}}],
    "mark": {"type": "rule", "color": "#000", "strokeWidth": 2},
    "encoding": {"x": {"field": "from", "type": "ordinal", "bandPosition": 0.5}, "x2": {"field": "to", "bandPosition": 0.5}, "y": {"field": "level", "type": "quantitative"}}},
   {"data": {"name": "brackets"}, "transform": [{"filter": {"field": "panel", "equal": "C"}}],
    "mark": {"type": "rule", "color": "#000", "strokeWidth": 2},
    "encoding": {"x": {"field": "from", "type": "ordinal", "bandPosition": 0.5}, "y": {"field": "level", "type": "quantitative"}, "y2": {"field": "endL"}}},
   {"data": {"name": "brackets"}, "transform": [{"filter": {"field": "panel", "equal": "C"}}],
    "mark": {"type": "rule", "color": "#000", "strokeWidth": 2},
    "encoding": {"x": {"field": "to", "type": "ordinal", "bandPosition": 0.5}, "y": {"field": "level", "type": "quantitative"}, "y2": {"field": "endR"}}},
   {"data": {"name": "brackets"}, "transform": [{"filter": {"field": "panel", "equal": "C"}}, {"filter": {"field": "place", "equal": "mid"}}],
    "mark": {"type": "text", "fontSize": 15, "fontWeight": "bold", "baseline": "alphabetic", "dy": 3, "color": "#000"},
    "encoding": {"x": {"field": "at", "type": "ordinal", "bandPosition": 0.5}, "y": {"field": "level", "type": "quantitative"}, "text": {"field": "stars"}}},
   {"data": {"name": "brackets"}, "transform": [{"filter": {"field": "panel", "equal": "C"}}, {"filter": {"field": "place", "equal": "half"}}],
    "mark": {"type": "text", "fontSize": 15, "fontWeight": "bold", "baseline": "alphabetic", "dy": 3, "dx": 26, "color": "#000"},
    "encoding": {"x": {"field": "at", "type": "ordinal", "bandPosition": 0.5}, "y": {"field": "level", "type": "quantitative"}, "text": {"field": "stars"}}},
   {"data": {"name": "notes"}, "transform": [{"filter": {"field": "panel", "equal": "C"}}],
    "mark": {"type": "text", "fontSize": 14, "fontWeight": "bold", "align": "left", "baseline": "middle", "dx": -15, "color": "#000"},
    "encoding": {"x": {"field": "at", "type": "ordinal", "bandPosition": 0.5}, "y": {"field": "level", "type": "quantitative"}, "text": {"field": "label"}}}
  ]},
 {"width": 315, "height": 207,
  "title": {"text": "D", "dx": -40, "offset": -33.5, "baseline": "bottom"},
  "layer": [
   {"data": {"name": "points"}, "transform": [{"filter": {"field": "panel", "equal": "D"}}],
    "mark": {"type": "circle", "size": 80, "opacity": 1, "stroke": "#000", "strokeOpacity": 0.25, "strokeWidth": 0.6},
    "encoding": {
     "x": {"field": "group", "type": "ordinal", "scale": {"domain": [1,2,3,4,5,6], "paddingInner": 0, "paddingOuter": 0}, "axis": {"title": "Immunization Group"}},
     "xOffset": {"field": "slot", "type": "quantitative", "scale": {"domain": [-3, 3]}},
     "y": {"field": "titer", "type": "quantitative", "scale": {"domain": [0, 2], "nice": false}, "axis": {"title": "Log₁₀ Endpoint Titer", "values": [0,1,2]}},
     "color": {"field": "group", "type": "nominal", "scale": {"domain": [1,2,3,4,5,6], "range": ["#E8489A","#7B3F99","#F0862D","#3A56A5","#E73B2B","#0F9950"]}, "legend": null}}},
   {"data": {"name": "stats"}, "transform": [{"filter": {"field": "panel", "equal": "D"}}],
    "mark": {"type": "rule", "color": "#333", "strokeWidth": 1.5},
    "encoding": {"x": {"field": "group", "type": "ordinal", "bandPosition": 0.5}, "y": {"field": "lo", "type": "quantitative"}, "y2": {"field": "hi"}}},
   {"data": {"name": "stats"}, "transform": [{"filter": {"field": "panel", "equal": "D"}}],
    "mark": {"type": "tick", "orient": "horizontal", "size": 36, "thickness": 1.5, "color": "#333", "opacity": 1},
    "encoding": {"x": {"field": "group", "type": "ordinal"}, "y": {"field": "mean", "type": "quantitative"}}},
   {"data": {"name": "stats"}, "transform": [{"filter": {"field": "panel", "equal": "D"}}],
    "mark": {"type": "tick", "orient": "horizontal", "size": 20, "thickness": 1.5, "color": "#333", "opacity": 1},
    "encoding": {"x": {"field": "group", "type": "ordinal"}, "y": {"field": "lo", "type": "quantitative"}}},
   {"data": {"name": "stats"}, "transform": [{"filter": {"field": "panel", "equal": "D"}}],
    "mark": {"type": "tick", "orient": "horizontal", "size": 20, "thickness": 1.5, "color": "#333", "opacity": 1},
    "encoding": {"x": {"field": "group", "type": "ordinal"}, "y": {"field": "hi", "type": "quantitative"}}},
   {"data": {"name": "notes"}, "transform": [{"filter": {"field": "panel", "equal": "D"}}],
    "mark": {"type": "text", "fontSize": 14, "fontWeight": "bold", "align": "left", "baseline": "middle", "dx": -15, "color": "#000"},
    "encoding": {"x": {"field": "at", "type": "ordinal", "bandPosition": 0.5}, "y": {"field": "level", "type": "quantitative"}, "text": {"field": "label"}}}
  ]},
 {"width": 313, "height": 206,
  "title": {"text": "E", "dx": -42, "offset": -21.5, "baseline": "bottom"},
  "layer": [
   {"data": {"name": "points"}, "transform": [{"filter": {"field": "panel", "equal": "E"}}],
    "mark": {"type": "circle", "size": 80, "opacity": 1, "stroke": "#000", "strokeOpacity": 0.25, "strokeWidth": 0.6},
    "encoding": {
     "x": {"field": "group", "type": "ordinal", "scale": {"domain": [1,2,3,4,5,6], "paddingInner": 0, "paddingOuter": 0}, "axis": {"title": "Immunization Group"}},
     "xOffset": {"field": "slot", "type": "quantitative", "scale": {"domain": [-3, 3]}},
     "y": {"field": "titer", "type": "quantitative", "scale": {"domain": [0, 3.32], "nice": false}, "axis": {"title": "Log₁₀ Endpoint Titer", "values": [0,1,2,3]}},
     "color": {"field": "group", "type": "nominal", "scale": {"domain": [1,2,3,4,5,6], "range": ["#E8489A","#7B3F99","#F0862D","#3A56A5","#E73B2B","#0F9950"]}, "legend": null}}},
   {"data": {"name": "stats"}, "transform": [{"filter": {"field": "panel", "equal": "E"}}],
    "mark": {"type": "rule", "color": "#333", "strokeWidth": 1.5},
    "encoding": {"x": {"field": "group", "type": "ordinal", "bandPosition": 0.5}, "y": {"field": "lo", "type": "quantitative"}, "y2": {"field": "hi"}}},
   {"data": {"name": "stats"}, "transform": [{"filter": {"field": "panel", "equal": "E"}}],
    "mark": {"type": "tick", "orient": "horizontal", "size": 36, "thickness": 1.5, "color": "#333", "opacity": 1},
    "encoding": {"x": {"field": "group", "type": "ordinal"}, "y": {"field": "mean", "type": "quantitative"}}},
   {"data": {"name": "stats"}, "transform": [{"filter": {"field": "panel", "equal": "E"}}],
    "mark": {"type": "tick", "orient": "horizontal", "size": 20, "thickness": 1.5, "color": "#333", "opacity": 1},
    "encoding": {"x": {"field": "group", "type": "ordinal"}, "y": {"field": "lo", "type": "quantitative"}}},
   {"data": {"name": "stats"}, "transform": [{"filter": {"field": "panel", "equal": "E"}}],
    "mark": {"type": "tick", "orient": "horizontal", "size": 20, "thickness": 1.5, "color": "#333", "opacity": 1},
    "encoding": {"x": {"field": "group", "type": "ordinal"}, "y": {"field": "hi", "type": "quantitative"}}},
   {"data": {"name": "notes"}, "transform": [{"filter": {"field": "panel", "equal": "E"}}],
    "mark": {"type": "text", "fontSize": 14, "fontWeight": "bold", "align": "left", "baseline": "middle", "dx": -15, "color": "#000"},
    "encoding": {"x": {"field": "at", "type": "ordinal", "bandPosition": 0.5}, "y": {"field": "level", "type": "quantitative"}, "text": {"field": "label"}}}
  ]},
 {"width": 315, "height": 206,
  "title": {"text": "F", "dx": -40, "offset": -23.5, "baseline": "bottom"},
  "layer": [
   {"data": {"name": "points"}, "transform": [{"filter": {"field": "panel", "equal": "F"}}],
    "mark": {"type": "circle", "size": 80, "opacity": 1, "stroke": "#000", "strokeOpacity": 0.25, "strokeWidth": 0.6},
    "encoding": {
     "x": {"field": "group", "type": "ordinal", "scale": {"domain": [1,2,3,4,5,6], "paddingInner": 0, "paddingOuter": 0}, "axis": {"title": "Immunization Group"}},
     "xOffset": {"field": "slot", "type": "quantitative", "scale": {"domain": [-3, 3]}},
     "y": {"field": "titer", "type": "quantitative", "scale": {"domain": [0, 3.32], "nice": false}, "axis": {"title": "Log₁₀ Endpoint Titer", "values": [0,1,2,3]}},
     "color": {"field": "group", "type": "nominal", "scale": {"domain": [1,2,3,4,5,6], "range": ["#E8489A","#7B3F99","#F0862D","#3A56A5","#E73B2B","#0F9950"]}, "legend": null}}},
   {"data": {"name": "stats"}, "transform": [{"filter": {"field": "panel", "equal": "F"}}],
    "mark": {"type": "rule", "color": "#333", "strokeWidth": 1.5},
    "encoding": {"x": {"field": "group", "type": "ordinal", "bandPosition": 0.5}, "y": {"field": "lo", "type": "quantitative"}, "y2": {"field": "hi"}}},
   {"data": {"name": "stats"}, "transform": [{"filter": {"field": "panel", "equal": "F"}}],
    "mark": {"type": "tick", "orient": "horizontal", "size": 36, "thickness": 1.5, "color": "#333", "opacity": 1},
    "encoding": {"x": {"field": "group", "type": "ordinal"}, "y": {"field": "mean", "type": "quantitative"}}},
   {"data": {"name": "stats"}, "transform": [{"filter": {"field": "panel", "equal": "F"}}],
    "mark": {"type": "tick", "orient": "horizontal", "size": 20, "thickness": 1.5, "color": "#333", "opacity": 1},
    "encoding": {"x": {"field": "group", "type": "ordinal"}, "y": {"field": "lo", "type": "quantitative"}}},
   {"data": {"name": "stats"}, "transform": [{"filter": {"field": "panel", "equal": "F"}}],
    "mark": {"type": "tick", "orient": "horizontal", "size": 20, "thickness": 1.5, "color": "#333", "opacity": 1},
    "encoding": {"x": {"field": "group", "type": "ordinal"}, "y": {"field": "hi", "type": "quantitative"}}},
   {"data": {"name": "notes"}, "transform": [{"filter": {"field": "panel", "equal": "F"}}],
    "mark": {"type": "text", "fontSize": 14, "fontWeight": "bold", "align": "left", "baseline": "middle", "dx": -15, "color": "#000"},
    "encoding": {"x": {"field": "at", "type": "ordinal", "bandPosition": 0.5}, "y": {"field": "level", "type": "quantitative"}, "text": {"field": "label"}}}
  ]}
]
}
